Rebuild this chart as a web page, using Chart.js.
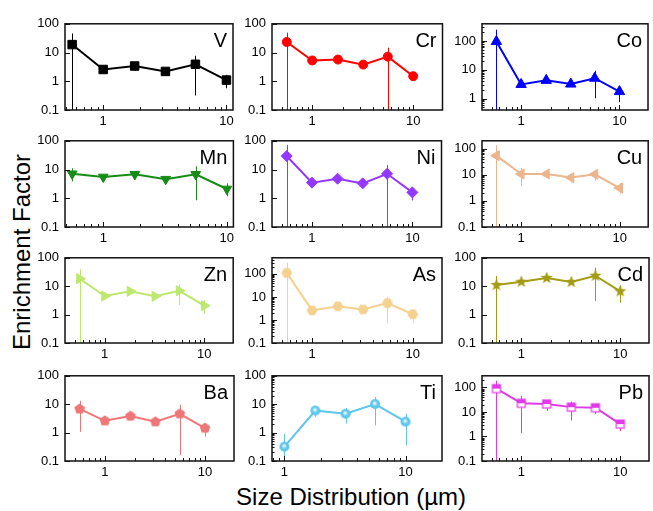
<!DOCTYPE html>
<html>
<head>
<meta charset="utf-8">
<title>Enrichment Factor</title>
<script src="https://cdn.jsdelivr.net/npm/chart.js@4.4.1/dist/chart.umd.min.js"></script>
<style>
  html, body { margin: 0; padding: 0; overflow: hidden; background: #fff; }
  body { position: relative; width: 653px; height: 511px; font-family: "Liberation Sans", Arial, sans-serif; }
  canvas.panel { position: absolute; }
  .title { position: absolute; white-space: nowrap; line-height: 1; color: #000; }
  #ytitle { left: 22px; top: 252px; font-size: 24px; transform: translate(-50%, -50%) rotate(-90deg); }
  #xtitle { left: 351px; top: 497px; font-size: 24px; transform: translate(-50%, -50%); }
</style>
</head>
<body>
<div id="ytitle" class="title">Enrichment Factor</div>
<div id="xtitle" class="title">Size Distribution (µm)</div>
<script>
// stage sizes (µm)
const sizes = [0.56, 1.0, 1.8, 3.2, 5.6, 10];
const sizesTi = [1.0, 1.8, 3.2, 5.6, 10];
const xTickLabels = [1, 10];
const yTickLabels = [0.1, 1, 10, 100];

// enrichment factor, upper and lower end of error bar
const efV = [18.9, 2.57, 3.4, 2.2, 3.9, 1.1];
const hiV = [46, 2.9, 4.4, 2.5, 7.7, 1.67];
const loV = [0.05, 2.2, 2.3, 1.9, 0.32, 0.57];

const efCr = [23.3, 5.3, 5.7, 3.8, 7.2, 1.5];
const hiCr = [49, 5.9, 6.3, 4.2, 14.7, 1.7];
const loCr = [0.05, 4.8, 5.1, 3.4, 0.05, 1.3];

const efCo = [97, 3.1, 4.3, 3.2, 5.1, 1.75];
const hiCo = [250, 3.4, 5.2, 3.5, 9.3, 2.6];
const loCo = [0.2, 2.8, 3.4, 2.9, 1.02, 0.75];

const efMn = [7.1, 5.5, 6.8, 4.6, 6.8, 2.1];
const hiMn = [11, 6, 7.5, 5.1, 12.9, 3.3];
const loMn = [3.9, 5, 6.1, 4.1, 0.85, 1.17];

const efNi = [29.5, 3.5, 4.8, 3.3, 7.1, 1.6];
const hiNi = [72, 3.9, 5.4, 3.7, 14.3, 2.5];
const loNi = [0.05, 3.1, 4.2, 2.9, 0.05, 0.84];

const efCu = [54, 10.7, 10.7, 7.8, 10.4, 3.1];
const hiCu = [135, 18, 12, 11, 15, 4.8];
const loCu = [0.05, 3.6, 9.5, 5.1, 5.9, 1.87];

const efZn = [18.4, 4.5, 6.6, 4.4, 6.9, 2.06];
const hiZn = [40, 5, 7.2, 4.8, 11.6, 3.2];
const loZn = [0.05, 4, 6, 4, 2.2, 1.08];

const efAs = [111, 2.6, 3.9, 2.86, 5.4, 1.77];
const hiAs = [310, 2.9, 4.3, 3.1, 9.9, 2.9];
const loAs = [0.05, 2.3, 3.5, 2.6, 0.73, 0.73];

const efCd = [11, 14.3, 19.5, 14, 23.3, 6.6];
const hiCd = [23, 16, 22, 16, 44.7, 10.7];
const loCd = [0.05, 12.5, 17, 12, 3.0, 2.6];

const efBa = [6.8, 2.6, 3.8, 2.4, 4.6, 1.44];
const hiBa = [13.2, 2.9, 5, 2.7, 9.6, 2.1];
const loBa = [1.06, 2.3, 2.8, 2.1, 0.16, 0.72];

const efTi = [0.32, 6.0, 4.6, 10.1, 2.43];
const hiTi = [0.9, 7.8, 7.4, 18, 4.6];
const loTi = [0.09, 3.6, 2.1, 1.8, 0.35];

const efPb = [90, 22.7, 21.3, 15.8, 14.9, 3.2];
const hiPb = [190, 45, 30, 26.5, 20, 4.5];
const loPb = [0.05, 1.36, 11, 4.5, 8.2, 1.67];

// layout of the 4x3 grid (plot area edges, px)
const cols = [[65, 237], [272, 445], [482, 652]];
const rows = [[20, 110], [137, 227], [254, 343], [372, 461]];
const PAD_L = 50, PAD_T = 10, PAD_R = 3, PAD_B = 24;
const FONT = '"Liberation Sans", Arial, sans-serif';

function markerCanvas(kind, color) {
  const s = 14, c = document.createElement('canvas');
  c.width = s; c.height = s;
  const g = c.getContext('2d'), m = s / 2;
  g.fillStyle = color; g.strokeStyle = color; g.lineWidth = 1;
  function poly(n, r, rot, inner) {
    g.beginPath();
    const k = inner ? n * 2 : n;
    for (let i = 0; i < k; i++) {
      const rr = inner && i % 2 ? inner : r;
      const an = rot + i * 2 * Math.PI / k;
      g.lineTo(m + rr * Math.cos(an), m + rr * Math.sin(an));
    }
    g.closePath();
  }
  if (kind === 'hex') { poly(6, 5.4, 0); g.fill(); }
  if (kind === 'pent') { poly(5, 5.6, -Math.PI / 2); g.fill(); }
  if (kind === 'star') { poly(5, 6.4, -Math.PI / 2, 2.7); g.fill(); }
  if (kind === 'sphere') {
    const gr = g.createRadialGradient(m - 0.5, m - 1, 0.5, m, m, 5);
    gr.addColorStop(0, '#e6f8ff');
    gr.addColorStop(0.55, color);
    gr.addColorStop(1, color);
    g.fillStyle = gr;
    g.beginPath(); g.arc(m, m, 5, 0, Math.PI * 2); g.fill();
  }
  if (kind === 'halfsq') {
    g.fillStyle = '#fff'; g.fillRect(m - 4, m - 4, 8, 8);
    g.fillStyle = color; g.fillRect(m - 4, m - 4, 8, 4);
    g.lineWidth = 1.2; g.strokeRect(m - 4, m - 4, 8, 8);
  }
  return c;
}

const panels = [
  { name: 'V',  xs: sizes, ef: efV,  hi: hiV,  lo: loV,  color: '#000000', style: 'rect', r: 6, xr: [0.49, 11.3], yr: [0.1, 100] },
  { name: 'Cr', xs: sizes, ef: efCr, hi: hiCr, lo: loCr, color: '#ff0000', style: 'circle', r: 4.5, xr: [0.4, 19.5], yr: [0.1, 100] },
  { name: 'Co', xs: sizes, ef: efCo, hi: hiCo, lo: loCo, color: '#0000ff', style: 'triangle', r: 6, xr: [0.4, 19.5], yr: [0.4, 400], minorY: true },
  { name: 'Mn', xs: sizes, ef: efMn, hi: hiMn, lo: loMn, color: '#168c16', style: 'triangle', rot: 180, r: 5.6, xr: [0.49, 11.3], yr: [0.1, 100] },
  { name: 'Ni', xs: sizes, ef: efNi, hi: hiNi, lo: loNi, color: '#9437ff', style: 'rectRot', r: 5.5, xr: [0.4, 19.5], yr: [0.1, 100] },
  { name: 'Cu', xs: sizes, ef: efCu, hi: hiCu, lo: loCu, color: '#ebb58e', style: 'triangle', rot: -90, r: 5.8, xr: [0.4, 19.5], yr: [0.1, 200], minorY: true },
  { name: 'Zn', xs: sizes, ef: efZn, hi: hiZn, lo: loZn, color: '#bde86e', style: 'triangle', rot: 90, r: 5.8, xr: [0.4, 19.5], yr: [0.1, 100] },
  { name: 'As', xs: sizes, ef: efAs, hi: hiAs, lo: loAs, color: '#f5d190', style: 'hex', r: 5, xr: [0.4, 19.5], yr: [0.1, 500], minorY: true },
  { name: 'Cd', xs: sizes, ef: efCd, hi: hiCd, lo: loCd, color: '#a39c14', style: 'star', r: 5, xr: [0.4, 19.5], yr: [0.1, 100] },
  { name: 'Ba', xs: sizes, ef: efBa, hi: hiBa, lo: loBa, color: '#ee7676', style: 'pent', r: 5, xr: [0.4, 19.5], yr: [0.1, 100] },
  { name: 'Ti', xs: sizesTi, ef: efTi, hi: hiTi, lo: loTi, color: '#5cc6ec', style: 'sphere', r: 5, xr: [0.79, 20], yr: [0.1, 100], minorY: true },
  { name: 'Pb', xs: sizes, ef: efPb, hi: hiPb, lo: loPb, color: '#e03ae8', style: 'halfsq', r: 5, xr: [0.4, 19.5], yr: [0.1, 300], minorY: true },
];

function minors(min, max) {
  const out = [];
  for (let e = Math.floor(Math.log10(min)); e <= Math.ceil(Math.log10(max)); e++) {
    for (let k = 2; k <= 9; k++) {
      const v = k * Math.pow(10, e);
      if (v > min * 1.001 && v < max * 0.999) out.push(v);
    }
  }
  return out;
}

const panelPlugin = {
  id: 'panelDeco',
  beforeDatasetsDraw(chart) {
    const { ctx, chartArea: a, scales: { x, y } } = chart;
    const ds = chart.data.datasets[0];
    ctx.save();
    ctx.beginPath();
    ctx.rect(a.left, a.top, a.right - a.left, a.bottom - a.top);
    ctx.clip();
    ctx.strokeStyle = ds.borderColor;
    ctx.lineWidth = 1;
    ds.data.forEach((pt, i) => {
      const px = Math.round(x.getPixelForValue(pt.x)) + 0.5;
      ctx.beginPath();
      ctx.moveTo(px, y.getPixelForValue(ds.errHi[i]));
      ctx.lineTo(px, y.getPixelForValue(ds.errLo[i]));
      ctx.stroke();
    });
    ctx.restore();
  },
  afterDraw(chart) {
    const { ctx, chartArea: a, scales: { x, y } } = chart;
    const ds = chart.data.datasets[0];
    ctx.save();
    ctx.strokeStyle = '#111';
    ctx.lineWidth = 1;
    ctx.beginPath();
    const xt = (v, len) => {
      const px = Math.round(x.getPixelForValue(v)) + 0.5;
      ctx.moveTo(px, a.bottom); ctx.lineTo(px, a.bottom - len);
    };
    const yt = (v, len) => {
      const py = Math.round(y.getPixelForValue(v)) + 0.5;
      ctx.moveTo(a.left, py); ctx.lineTo(a.left + len, py);
    };
    xTickLabels.filter(v => v >= x.min && v <= x.max).forEach(v => xt(v, 5));
    minors(x.min, x.max).forEach(v => xt(v, 3));
    yTickLabels.filter(v => v >= y.min && v <= y.max).forEach(v => yt(v, 5));
    if (ds.minorY) minors(y.min, y.max).forEach(v => yt(v, 2.5));
    ctx.stroke();
    ctx.lineWidth = 1.5;
    ctx.strokeRect(a.left, a.top, a.right - a.left, a.bottom - a.top);
    ctx.fillStyle = '#000';
    ctx.font = '20px ' + FONT;
    ctx.textAlign = 'right';
    ctx.textBaseline = 'alphabetic';
    ctx.fillText(ds.label, a.right - 6, a.top + 23);
    ctx.restore();
  }
};

function makePanel(p, idx) {
  const [l, r] = cols[idx % 3], [t, b] = rows[Math.floor(idx / 3)];
  const w = r - l + PAD_L + PAD_R, h = b - t + PAD_T + PAD_B;
  const cv = document.createElement('canvas');
  cv.className = 'panel';
  cv.width = w; cv.height = h;
  cv.style.left = (l - PAD_L) + 'px';
  cv.style.top = (t - PAD_T) + 'px';
  cv.style.width = w + 'px';
  cv.style.height = h + 'px';
  document.body.appendChild(cv);

  const custom = ['hex', 'pent', 'star', 'sphere', 'halfsq'].includes(p.style);
  const tickFont = { size: 13, family: FONT };

  return new Chart(cv, {
    type: 'line',
    data: {
      datasets: [{
        label: p.name,
        data: p.xs.map((v, i) => ({ x: v, y: p.ef[i] })),
        errHi: p.hi,
        errLo: p.lo,
        minorY: !!p.minorY,
        borderColor: p.color,
        backgroundColor: p.color,
        borderWidth: 2,
        tension: 0,
        pointStyle: custom ? markerCanvas(p.style, p.color) : p.style,
        pointRotation: p.rot || 0,
        pointRadius: p.r,
        pointBackgroundColor: p.color,
        pointBorderColor: p.color,
        pointBorderWidth: 1,
      }]
    },
    options: {
      responsive: false,
      animation: false,
      events: [],
      layout: { padding: { left: 0, top: PAD_T, right: PAD_R, bottom: 0 } },
      plugins: { legend: { display: false }, tooltip: { enabled: false } },
      scales: {
        x: {
          type: 'logarithmic',
          bounds: 'data',
          min: p.xr[0],
          max: p.xr[1],
          grid: { display: false, drawTicks: false },
          border: { display: false },
          afterBuildTicks: s => { s.ticks = xTickLabels.filter(v => v >= s.min && v <= s.max).map(v => ({ value: v })); },
          afterFit: s => { s.height = PAD_B; },
          ticks: { padding: 4, font: tickFont, color: '#000', maxRotation: 0, autoSkip: false, callback: v => String(v) }
        },
        y: {
          type: 'logarithmic',
          bounds: 'data',
          min: p.yr[0],
          max: p.yr[1],
          grid: { display: false, drawTicks: false },
          border: { display: false },
          afterBuildTicks: s => { s.ticks = yTickLabels.filter(v => v >= s.min && v <= s.max).map(v => ({ value: v })); },
          afterFit: s => { s.width = PAD_L; },
          ticks: { padding: 6, font: tickFont, color: '#000', autoSkip: false, callback: v => String(v) }
        }
      }
    },
    plugins: [panelPlugin]
  });
}

panels.forEach(makePanel);
</script>
</body>
</html>
